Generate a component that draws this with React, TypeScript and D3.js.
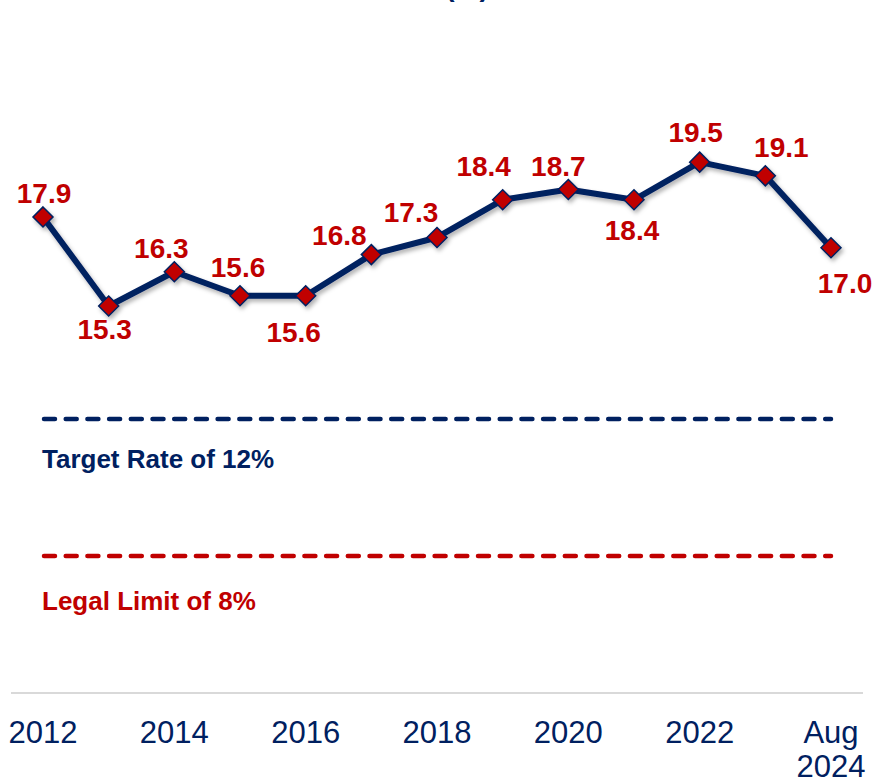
import React from 'react';
import * as d3 from 'd3';

// categories and values
const categories = ['2012', '2013', '2014', '2015', '2016', '2017', '2018', '2019', '2020', '2021', '2022', '2023', 'Aug 2024'];
const ratio = [17.9, 15.3, 16.3, 15.6, 15.6, 16.8, 17.3, 18.4, 18.7, 18.4, 19.5, 19.1, 17.0];
const tickLabels = ['2012', '2014', '2016', '2018', '2020', '2022', 'Aug 2024'];
const targetRate = 12;
const legalLimit = 8;

// label placement relative to marker (dx, dy of baseline)
const labelPlacement = [
    [1, -14], [-4, 33], [-13, -14], [-2, -19], [-12, 46], [-32, -10], [-26, -15],
    [-19, -24], [-10, -14], [-2, 40], [-4, -20], [16, -19], [14, 45]
];

const NAVY = '#002060';
const RED = '#C00000';
const FONT = '"Liberation Sans", Arial, sans-serif';

export default function App() {
    const width = 877, height = 782;

    const x = d3.scalePoint<string>()
        .domain(categories)
        .range([43, 831]);

    const y = d3.scaleLinear()
        .domain([4, 24])
        .range([693, 8]);

    const line = d3.line<number>()
        .x((d, i) => x(categories[i]) as number)
        .y(d => y(d));

    const diamond = (cx: number, cy: number, r: number) =>
        `M${cx},${cy - r}L${cx + r},${cy}L${cx},${cy + r}L${cx - r},${cy}Z`;

    const x0 = x(categories[0]) as number;
    const x1 = x(categories[categories.length - 1]) as number;

    return (
        <svg width={width} height={height} style={{ position: 'absolute', left: 0, top: 0, background: '#fff' }}
            fontFamily={FONT}>
            <defs>
                <filter id="shadow" x="-20%" y="-20%" width="140%" height="160%">
                    <feDropShadow dx="2" dy="3" stdDeviation="2" floodColor="#000" floodOpacity="0.3" />
                </filter>
            </defs>

            {/* title, mostly cut off at the top */}
            <text x={467} y={-4} textAnchor="middle" fontSize={28} fontWeight="bold" fill={NAVY}>(%)</text>

            {/* reference lines */}
            <line x1={x0 + 1} x2={x1} y1={y(targetRate)} y2={y(targetRate)}
                stroke={NAVY} strokeWidth={4.5} strokeDasharray="11 10.7" strokeLinecap="round" />
            <text x={42} y={y(targetRate) + 49} fontSize={26} fontWeight="bold" fill={NAVY}>Target Rate of 12%</text>

            <line x1={x0 + 1} x2={x1} y1={y(legalLimit)} y2={y(legalLimit)}
                stroke={RED} strokeWidth={4.5} strokeDasharray="11 10.7" strokeLinecap="round" />
            <text x={42} y={y(legalLimit) + 54} fontSize={26} fontWeight="bold" fill={RED}>Legal Limit of 8%</text>

            {/* axis baseline */}
            <line x1={11} x2={863} y1={y(4)} y2={y(4)} stroke="#D9D9D9" strokeWidth={2} />

            {/* x tick labels */}
            {tickLabels.map(t => {
                const parts = t.split(' ');
                const tx = x(categories[categories.indexOf(t)]) as number;
                return (
                    <text key={t} x={tx} y={743} textAnchor="middle" fontSize={31} fill={NAVY}>
                        {parts.map((p, i) => (
                            <tspan key={p} x={tx} dy={i === 0 ? 0 : 34}>{p}</tspan>
                        ))}
                    </text>
                );
            })}

            {/* series */}
            <g filter="url(#shadow)">
                <path d={line(ratio) as string} fill="none" stroke={NAVY} strokeWidth={6} strokeLinejoin="round" />
                {ratio.map((v, i) => (
                    <path key={i} d={diamond(x(categories[i]) as number, y(v), 10)}
                        fill={RED} stroke={NAVY} strokeWidth={1.5} />
                ))}
            </g>

            {/* data labels */}
            {ratio.map((v, i) => (
                <text key={i}
                    x={(x(categories[i]) as number) + labelPlacement[i][0]}
                    y={y(v) + labelPlacement[i][1]}
                    textAnchor="middle" fontSize={28} fontWeight="bold" fill={RED}>
                    {v.toFixed(1)}
                </text>
            ))}
        </svg>
    );
}
